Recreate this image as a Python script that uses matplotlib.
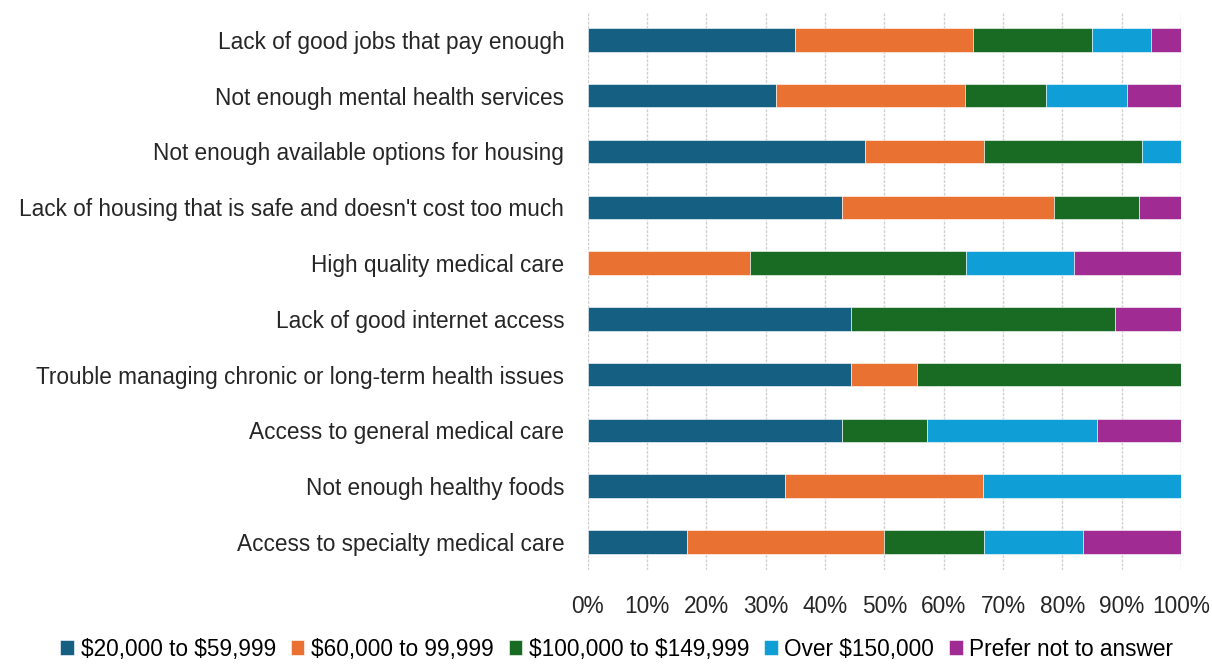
import numpy as np
import matplotlib
matplotlib.use("Agg")
import matplotlib.pyplot as plt
from matplotlib.ticker import PercentFormatter

plt.rcParams['font.family'] = ['Liberation Sans', 'DejaVu Sans']

# Survey concerns, top to bottom
issues = [
    "Lack of good jobs that pay enough",
    "Not enough mental health services",
    "Not enough available options for housing",
    "Lack of housing that is safe and doesn't cost too much",
    "High quality medical care",
    "Lack of good internet access",
    "Trouble managing chronic or long-term health issues",
    "Access to general medical care",
    "Not enough healthy foods",
    "Access to specialty medical care",
]

income_groups = [
    r"\$20,000 to \$59,999",
    r"\$60,000 to 99,999",
    r"\$100,000 to \$149,999",
    r"Over \$150,000",
    "Prefer not to answer",
]

# share of respondents (%) in each income group, one list per group
inc_20_60 = [35.0, 31.8, 46.7, 42.9, 0.0, 44.4, 44.4, 42.9, 33.3, 16.7]
inc_60_100 = [30.0, 31.8, 20.0, 35.7, 27.3, 0.0, 11.1, 0.0, 33.3, 33.3]
inc_100_150 = [20.0, 13.6, 26.7, 14.3, 36.4, 44.4, 44.4, 14.3, 0.0, 16.7]
inc_150_up = [10.0, 13.6, 6.7, 0.0, 18.2, 0.0, 0.0, 28.6, 33.3, 16.7]
no_answer = [5.0, 9.1, 0.0, 7.1, 18.2, 11.1, 0.0, 14.3, 0.0, 16.7]

series = [inc_20_60, inc_60_100, inc_100_150, inc_150_up, no_answer]
colors = ["#156082", "#E97132", "#196B24", "#0F9ED5", "#A02B93"]

fig = plt.figure(figsize=(12.12, 6.65), dpi=100)
ax = fig.add_axes([0.485, 0.143, 0.4895, 0.839])

y = np.arange(len(issues))
left = np.zeros(len(issues))
for vals, col, name in zip(series, colors, income_groups):
    vals = np.array(vals)
    ax.barh(y, vals, left=left, height=0.42, color=col, label=name,
            edgecolor="white", linewidth=0.4, zorder=3)
    left += vals

ax.set_ylim(len(issues) - 0.5, -0.5)
ax.set_xlim(0, 100)
ax.set_yticks(y)
ax.set_yticklabels(issues, fontsize=16.3, color="#262626")
ax.set_xticks(np.arange(0, 101, 10))
ax.xaxis.set_major_formatter(PercentFormatter(decimals=0))
ax.tick_params(axis='x', labelsize=16.3, colors="#262626", length=0, pad=18)
ax.tick_params(axis='y', length=0, pad=17)

ax.grid(axis='x', color="#d0d0d0", linewidth=1.0, linestyle=(0, (2, 1)), zorder=0)
for s in ax.spines.values():
    s.set_visible(False)

handles, labels = ax.get_legend_handles_labels()
fig.legend(handles, labels, loc='lower center', bbox_to_anchor=(0.509, -0.024),
           ncol=5, frameon=False, fontsize=16.3, handlelength=0.6,
           handleheight=0.6, handletextpad=0.3, columnspacing=0.65)

fig.savefig("out.png", dpi=100, facecolor="white")
